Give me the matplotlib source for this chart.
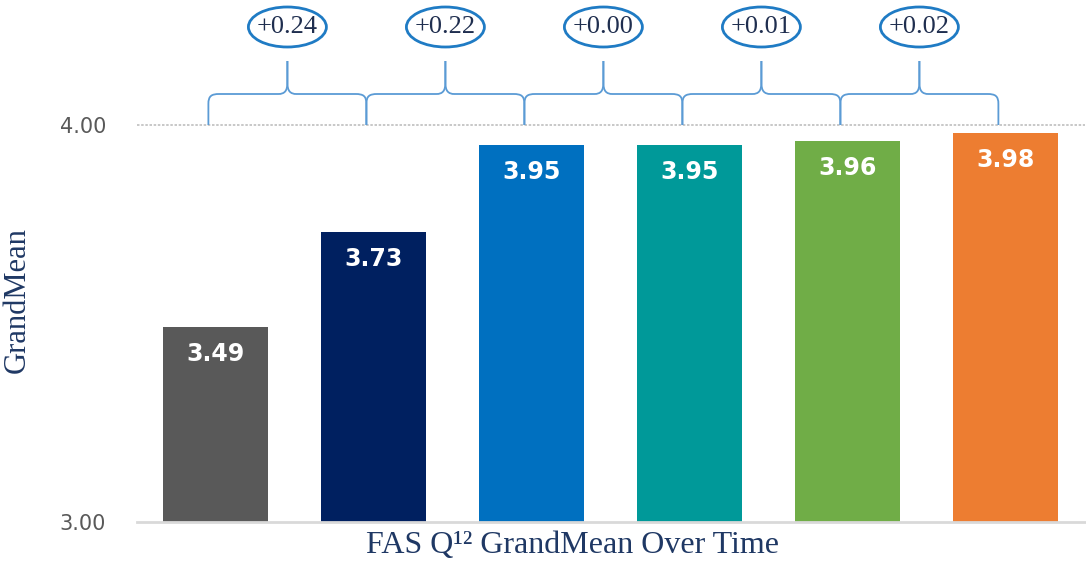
import matplotlib
matplotlib.use("Agg")
import matplotlib.pyplot as plt
from matplotlib.path import Path
from matplotlib.patches import PathPatch, Ellipse

values = [3.49, 3.73, 3.95, 3.95, 3.96, 3.98]
colors = ["#595959", "#002060", "#0070C0", "#009999", "#70AD47", "#ED7D31"]
diffs = ["+0.24", "+0.22", "+0.00", "+0.01", "+0.02"]
yticks = [3.0, 4.0]
ytick_labels = ["3.00", "4.00"]

W, H = 1086, 562
fig = plt.figure(figsize=(W / 100, H / 100), dpi=100)
ax_l, ax_r, ax_b, ax_t = 136.5, 1084.5, 522, 125
ax = fig.add_axes([ax_l / W, 1 - ax_b / H, (ax_r - ax_l) / W, (ax_b - ax_t) / H])
x = list(range(len(values)))
ax.bar(x, [v - 3.0 for v in values], bottom=3.0, width=0.665, color=colors, zorder=3)
ax.set_xlim(-0.5, len(values) - 0.5)
ax.set_ylim(3.0, 4.0)
for s in ax.spines.values():
    s.set_visible(False)
ax.set_xticks([])
ax.set_yticks(yticks)
ax.set_yticklabels(ytick_labels, fontsize=15, color="#595959", family="DejaVu Sans")
ax.tick_params(axis="y", length=0, pad=22)
ax.axhline(4.0, color="#BFBFBF", lw=1.2, ls=(0, (1.5, 1)), zorder=1, clip_on=False)
ax.axhline(3.0, color="#D9D9D9", lw=2, zorder=4, clip_on=False)

for xi, v in zip(x, values):
    ax.text(xi, v - 0.068, f"{v:.2f}", ha="center", va="center", color="white",
            fontsize=17, fontweight="bold", family="DejaVu Sans", zorder=5)

pxx = (ax_r - ax_l) / len(values)  # px per x unit
pxy = (ax_b - ax_t) / 1.0          # px per y unit

def P(xd, ox, oy):
    return (xd + ox / pxx, 4.0 + oy / pxy)

h, t = 31, 64
for i, d in enumerate(diffs):
    xl = i - 0.045
    xr = i + 1 - 0.045
    xm = (xl + xr) / 2
    for xe, sgn in ((xl, 1), (xr, -1)):
        verts = [P(xe, 0, 0), P(xe, 0, h - 10),
                 P(xe, 0, h - 2), P(xe, 3 * sgn, h), P(xe, 11 * sgn, h),
                 P(xm, -9 * sgn, h),
                 P(xm, -3 * sgn, h), P(xm, 0, h + 3), P(xm, 0, h + 11),
                 P(xm, 0, t)]
        codes = [Path.MOVETO, Path.LINETO, Path.CURVE4, Path.CURVE4, Path.CURVE4,
                 Path.LINETO, Path.CURVE4, Path.CURVE4, Path.CURVE4, Path.LINETO]
        ax.add_patch(PathPatch(Path(verts, codes), fill=False, ec="#5B9BD5", lw=1.3,
                               clip_on=False, zorder=6))
    cy = 4.0 + (125 - 27) / pxy
    ax.add_patch(Ellipse((xm, cy), 78 / pxx, 40 / pxy, fill=False, ec="#1F7BC4",
                         lw=2, clip_on=False, zorder=6))
    ax.text(xm, cy, d, ha="center", va="center", fontsize=19,
            family="Liberation Serif", color="#1F2E4F", zorder=7)

fig.text(17 / W, 1 - 300 / H, "GrandMean", rotation=90, ha="center", va="center",
         fontsize=22, family="Liberation Serif", color="#1F3864")
fig.text(572 / W, 1 - 545 / H, "FAS Q\u00b9\u00b2 GrandMean Over Time", ha="center",
         va="center", fontsize=23, family="Liberation Serif", color="#1F3864")

fig.savefig("out.png", dpi=100)
